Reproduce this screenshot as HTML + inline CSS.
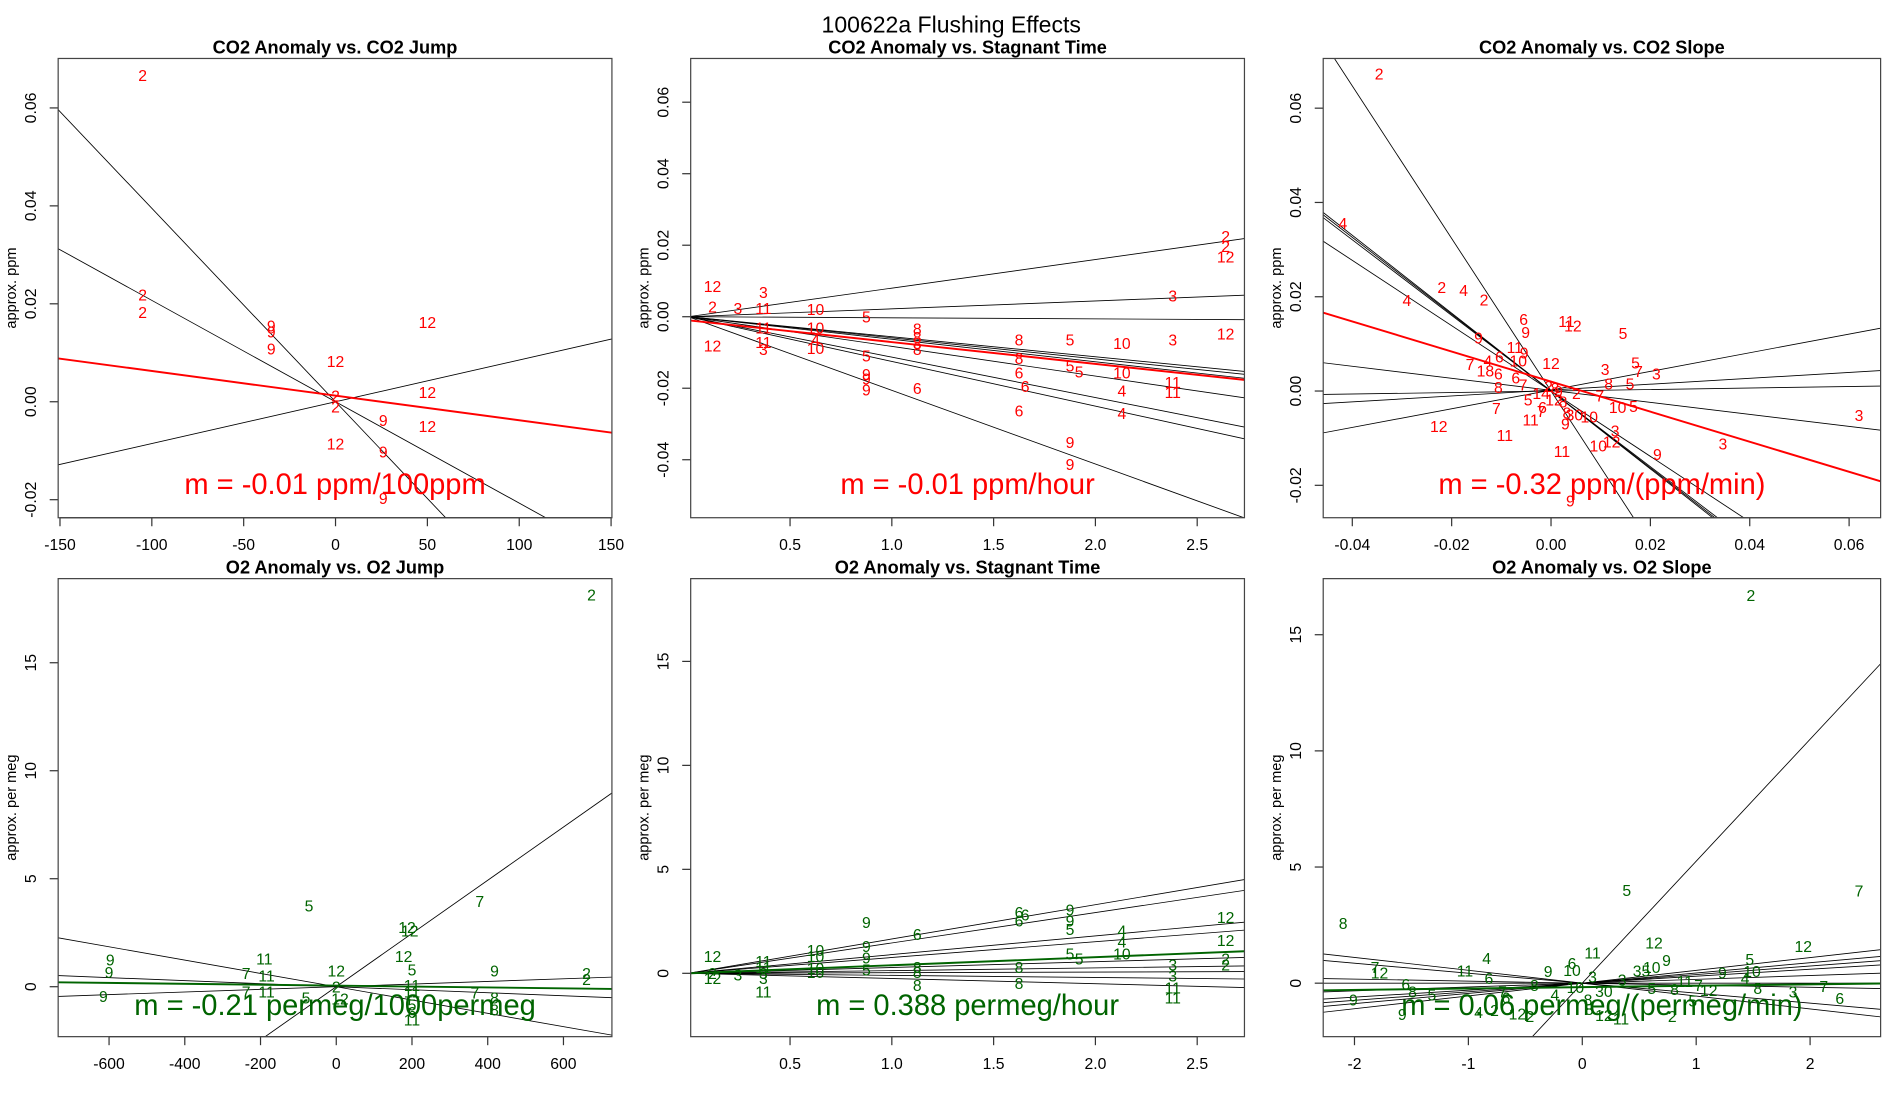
<!DOCTYPE html>
<html><head><meta charset="utf-8"><title>100622a Flushing Effects</title>
<style>
html,body{margin:0;padding:0;background:#fff;overflow:hidden;width:1900px;height:1100px;}
svg{display:block;font-family:"Liberation Sans",Arial,sans-serif;}
</style></head>
<body>
<svg id="chart" width="1900" height="1100" viewBox="0 0 1568 903" preserveAspectRatio="none" xmlns="http://www.w3.org/2000/svg">
<rect x="0" y="0" width="1568" height="903" fill="#fff"/>
<text x="785" y="20" font-size="19" text-anchor="middle" dominant-baseline="central">100622a   Flushing Effects</text>
</svg>
<script>
// ---------- Panel 1: CO2 Anomaly vs CO2 Jump ----------
const p1X = [-105,-105,-105,-35,-35,-35,0,0,0,50,50,50,0,26,26,26];
const p1Y = [0.0664,0.0216,0.018,0.0153,0.014,0.0106,0.008,0.001,-0.0013,0.016,0.0017,-0.0053,-0.0088,-0.004,-0.0105,-0.020];
const p1Lab = ["2","2","2","9","9","9","12","2","2","12","12","12","12","9","9","9"];
const p1Slopes = [-0.000395,-0.000207,0.0000853];
const p1Ints = [0,0,0];
const p1FitSlope = -0.0000503, p1FitInt = 0.00125;
const p1XTicks = [-150,-100,-50,0,50,100,150];
const p1YTicks = [-0.02,0,0.02,0.04,0.06];
const p1YTickLab = ["-0.02","0.00","0.02","0.04","0.06"];

// ---------- Panel 2: CO2 Anomaly vs Stagnant Time ----------
const p2X = [0.119,0.119,0.119,0.244,0.369,0.369,0.369,0.369,0.369,0.625,0.625,0.625,0.625,0.875,0.875,0.875,0.875,0.875,1.125,1.125,1.125,1.125,1.125,1.625,1.625,1.625,1.655,1.625,1.875,1.875,1.92,1.875,1.875,2.13,2.13,2.13,2.13,2.38,2.38,2.38,2.38,2.64,2.64,2.64,2.64];
const p2Y = [0.0082,0.0024,-0.0085,0.002,0.0065,0.002,-0.0034,-0.0075,-0.0095,0.0017,-0.0034,-0.0068,-0.0092,-0.0003,-0.0112,-0.0164,-0.0177,-0.0208,-0.0037,-0.0061,-0.0078,-0.0095,-0.0204,-0.0068,-0.0119,-0.016,-0.0198,-0.0266,-0.0068,-0.014,-0.0157,-0.0354,-0.0416,-0.0078,-0.016,-0.0211,-0.0273,0.0055,-0.0068,-0.0187,-0.0215,0.0221,0.0194,0.0164,-0.0051];
const p2Lab = ["12","2","12","3","3","11","11","11","3","10","10","4","10","5","5","9","9","9","8","8","8","8","6","8","8","6","6","6","5","5","5","9","9","10","10","4","4","3","3","11","11","2","2","12","12"];
const p2Slopes = [0.008,0.0022,-0.0003,-0.0056,-0.0059,-0.0063,-0.0083,-0.0113,-0.0125,-0.0206];
const p2Ints = [0,0,0,0,0,0,0,0,0,0];
const p2FitSlope = -0.0061, p2FitInt = -0.001;
const p2XTicks = [0.5,1.0,1.5,2.0,2.5];
const p2XTickLab = ["0.5","1.0","1.5","2.0","2.5"];
const p2YTicks = [-0.04,-0.02,0,0.02,0.04,0.06];
const p2YTickLab = ["-0.04","-0.02","0.00","0.02","0.04","0.06"];

// ---------- Panel 3: CO2 Anomaly vs CO2 Slope ----------
const p3X = [-0.0346,-0.0419,-0.0290,-0.0220,-0.0176,-0.0135,-0.0055,0.0031,0.0044,-0.0051,0.0145,-0.0146,-0.0073,-0.0054,-0.0066,-0.0104,-0.0127,-0.0163,0,0.0109,0.0170,0.0176,0.0212,-0.0132,-0.0106,-0.0071,-0.0056,-0.0106,0.0116,0.0159,-0.0005,0.0051,0.0098,-0.0046,-0.0020,0.0006,0.0024,0.0134,0.0166,-0.0110,-0.0017,-0.0020,0.0032,0.0047,0.0077,-0.0041,0.0029,-0.0226,-0.0093,0.0129,0.0122,0.0095,0.0022,0.0214,0.0620,0.0346,0.0039,0.0008,0.0015];
const p3Y = [0.0670,0.0353,0.0190,0.0218,0.0211,0.0191,0.0150,0.0145,0.0136,0.0122,0.0120,0.0110,0.0090,0.0079,0.0062,0.0070,0.0062,0.0054,0.0056,0.0044,0.0057,0.0039,0.0034,0.0040,0.0034,0.0026,0.0011,0.0005,0.0013,0.0013,0.0008,-0.0007,-0.0013,-0.0021,-0.0007,-0.0021,-0.0025,-0.0037,-0.0035,-0.0039,-0.0037,-0.0046,-0.0049,-0.0053,-0.0057,-0.0064,-0.0072,-0.0077,-0.0096,-0.0087,-0.0110,-0.0119,-0.0130,-0.0137,-0.0054,-0.0114,-0.0235,0.0003,-0.0003];
const p3Lab = ["2","4","4","2","4","2","6","11","12","9","5","9","11","9","10","6","4","7","12","3","5","7","3","18","6","6","7","8","8","5","2","2","7","5","14","12","8","10","5","7","6","7","8","30","10","11","9","12","11","3","12","10","11","9","3","3","9","8","9"];
const p3Slopes = [-1.618,-0.826,-0.815,-0.802,-0.693,-0.1275,0.016,0.0624,0.198];
const p3Ints = [0,0,0,0,0,0.00015,0,0.0002,0.0002];
const p3FitSlope = -0.319, p3FitInt = 0.0020;
const p3XTicks = [-0.04,-0.02,0,0.02,0.04,0.06];
const p3XTickLab = ["-0.04","-0.02","0.00","0.02","0.04","0.06"];
const p3YTicks = [-0.02,0,0.02,0.04,0.06];
const p3YTickLab = ["-0.02","0.00","0.02","0.04","0.06"];

// ---------- Panel 4: O2 Anomaly vs O2 Jump ----------
const p4X = [674,-72,379,187,194,178,-190,-597,-600,-238,-184,0,200,418,661,661,0,-184,-238,200,200,-80,10,366,-615,418,418,200,200,200];
const p4Y = [18.1,3.7,3.9,2.7,2.54,1.35,1.24,1.18,0.62,0.56,0.45,0.68,0.73,0.68,0.56,0.28,-0.06,-0.28,-0.28,0,-0.28,-0.56,-0.62,-0.34,-0.51,-0.56,-1.13,-0.9,-1.24,-1.58];
const p4Lab = ["2","5","7","12","12","12","11","9","9","7","11","12","5","9","2","2","2","11","7","11","11","5","12","7","9","8","8","5","6","11"];
const p4Slopes = [0.01232,-0.00308,-0.0007,0.00061];
const p4Ints = [0,0,0,0];
const p4FitSlope = -0.00021, p4FitInt = 0.05;
const p4XTicks = [-600,-400,-200,0,200,400,600];
const p4YTicks = [0,5,10,15];

// ---------- Panel 5: O2 Anomaly vs Stagnant Time ----------
const p5X = [0.119,0.119,0.119,0.244,0.369,0.369,0.369,0.369,0.369,0.625,0.625,0.625,0.625,0.875,0.875,0.875,0.875,1.125,1.125,1.125,1.125,1.625,1.655,1.625,1.625,1.625,1.875,1.875,1.875,1.875,1.92,2.13,2.13,2.13,2.38,2.38,2.38,2.38,2.64,2.64,2.64,2.64];
const p5Y = [0.76,-0.06,-0.29,-0.12,0.53,0.23,-0.06,-0.29,-0.94,1.05,0.76,0.18,0,2.4,1.23,0.7,0.12,1.82,0.23,0,-0.64,2.87,2.75,2.46,0.23,-0.53,2.99,2.46,2.05,0.88,0.64,1.99,1.46,0.88,0.35,-0.18,-0.76,-1.23,2.64,1.52,0.64,0.35];
const p5Lab = ["12","2","12","3","11","11","3","3","11","10","10","10","10","9","9","9","5","6","8","8","8","6","6","6","8","8","9","9","5","5","5","4","4","10","3","3","11","11","12","12","2","2"];
const p5Slopes = [1.65,1.46,0.9,0.76,0.28,0.13,0.03,-0.1,-0.25];
const p5Ints = [0,0,0,0,0,0,0,0,0];
const p5FitSlope = 0.388, p5FitInt = 0;
const p5YTicks = [0,5,10,15];

// ---------- Panel 6: O2 Anomaly vs O2 Slope ----------
const p6X = [1.48,0.39,2.43,-2.10,0.63,1.94,0.09,-0.84,0.74,-1.82,-1.78,1.47,-0.09,-1.03,-0.30,-0.09,0.61,0.52,1.23,1.49,-0.82,1.43,0.09,0.35,-1.55,-0.42,-0.06,0.90,1.02,1.11,0.61,0.81,1.54,2.12,-1.49,-1.32,1.85,-2.01,0.19,2.26,-0.24,-0.67,-0.70,0.05,0.97,-1.58,-0.91,-0.77,-0.57,0.19,0.34,-0.46,0.79,0.06];
const p6Y = [16.65,3.95,3.92,2.52,1.69,1.53,1.26,1.01,0.94,0.64,0.40,0.98,0.81,0.48,0.45,0.51,0.64,0.48,0.40,0.45,0.15,0.15,0.23,0.10,-0.10,-0.15,-0.22,0.02,-0.15,-0.35,-0.27,-0.32,-0.27,-0.18,-0.43,-0.55,-0.43,-0.76,-0.40,-0.71,-0.56,-0.68,-0.43,-0.76,-0.81,-1.39,-1.31,-1.21,-1.37,-1.44,-1.59,-1.47,-1.47,-1.18];
const p6Lab = ["2","5","7","8","12","12","11","4","9","7","12","5","6","11","9","10","10","35","9","10","6","4","3","3","6","8","10","11","7","12","5","8","8","7","8","5","3","9","30","6","4","6","7","8","5","9","4","2","12","12","11","2","2","8"];
const p6Slopes = [5.25,-0.554,-0.43,-0.088,0,0.30,0.37,0.44,0.55,0.165];
const p6Ints = [0,0,0,0,0,0,0,0,0,0];
const p6FitSlope = 0.06, p6FitInt = -0.17;
const p6XTicks = [-2,-1,0,1,2];
const p6YTicks = [0,5,10,15];

const NS = "http://www.w3.org/2000/svg";
const svg = document.getElementById("chart");

function mk(tag, attrs, parent){
  const e = document.createElementNS(NS, tag);
  for (const k in attrs) e.setAttribute(k, attrs[k]);
  (parent||svg).appendChild(e);
  return e;
}

function drawPanel(cfg){
  const g = mk("g", {});
  
  
  const L = cfg.box[0], R = cfg.box[1], T = cfg.box[2], B = cfg.box[3];
  const sx = v => cfg.x0 + v*cfg.xk;
  const sy = v => cfg.y0 - v*cfg.yk;
  const clipId = cfg.name + "-clip";
  const cp = mk("clipPath", {id: clipId}, g);
  mk("rect", {x:L, y:T, width:R-L, height:B-T}, cp);

  const title = mk("text", {x:(L+R)/2, y:T-9, "font-size":15, "font-weight":"bold", "text-anchor":"middle", "dominant-baseline":"central"}, g);
  title.textContent = cfg.title;
  
  

  const yl = mk("text", {x:L-38, y:(T+B)/2, "font-size":12, "text-anchor":"middle", "dominant-baseline":"central", transform:"rotate(-90 "+(L-38)+" "+((T+B)/2)+")"}, g);
  yl.textContent = cfg.ylabel;
  
  

  cfg.xTicks.forEach((v,i) => {
    const px = sx(v);
    const t = mk("line", {x1:px, x2:px, y1:B, y2:B+7, stroke:"#333", "stroke-width":1}, g);
    
    
    const tl = mk("text", {x:px, y:B+23, "font-size":13, "text-anchor":"middle", "dominant-baseline":"central"}, g);
    tl.textContent = cfg.xTickLab ? cfg.xTickLab[i] : String(v);
    
    
  });
  mk("line", {x1:sx(cfg.xTicks[0]), x2:sx(cfg.xTicks[cfg.xTicks.length-1]), y1:B, y2:B, stroke:"#333", "stroke-width":1}, g);
  cfg.yTicks.forEach((v,i) => {
    const py = sy(v);
    const t = mk("line", {x1:L-7, x2:L, y1:py, y2:py, stroke:"#333", "stroke-width":1}, g);
    
    
    const tx = L-22;
    const tl = mk("text", {x:tx, y:py, "font-size":13, "text-anchor":"middle", "dominant-baseline":"central", transform:"rotate(-90 "+tx+" "+py+")"}, g);
    tl.textContent = cfg.yTickLab ? cfg.yTickLab[i] : String(v);
    
    
  });

  const plot = mk("g", {"clip-path":"url(#"+clipId+")"}, g);
  
  
  const xa = (L - cfg.x0)/cfg.xk, xb = (R - cfg.x0)/cfg.xk;
  cfg.slopes.forEach((m,i) => {
    const c = cfg.ints[i];
    const ln = mk("line", {x1:sx(xa), y1:sy(c+m*xa), x2:sx(xb), y2:sy(c+m*xb), stroke:"#000", "stroke-width":0.7}, plot);
    
    
  });
  cfg.px.forEach((v,i) => {
    const t = mk("text", {x:sx(v), y:sy(cfg.py[i]), "font-size":13, fill:cfg.color, "text-anchor":"middle", "dominant-baseline":"central"}, plot);
    t.textContent = cfg.labs[i];
    
    
  });
  const fl = mk("line", {x1:sx(xa), y1:sy(cfg.fitInt+cfg.fitSlope*xa), x2:sx(xb), y2:sy(cfg.fitInt+cfg.fitSlope*xb), stroke:cfg.color, "stroke-width":1.6}, plot);
  
  
  const mt = mk("text", {x:(L+R)/2, y:cfg.mY, "font-size":24, fill:cfg.color, "text-anchor":"middle", "dominant-baseline":"central"}, plot);
  mt.textContent = cfg.mText;
  
  

  const bx = mk("rect", {x:L, y:T, width:R-L, height:B-T, fill:"none", stroke:"#444", "stroke-width":1}, g);
  
  
}

const RED = "#ff0000", GREEN = "#006400";
drawPanel({name:"co2-vs-jump-panel", title:"CO2 Anomaly vs. CO2 Jump", ylabel:"approx. ppm", box:[48,505,48,425],
  x0:276.9, xk:1.516, y0:329.8, yk:4020, xTicks:p1XTicks, yTicks:p1YTicks, yTickLab:p1YTickLab,
  px:p1X, py:p1Y, labs:p1Lab, slopes:p1Slopes, ints:p1Ints, fitSlope:p1FitSlope, fitInt:p1FitInt,
  color:RED, mText:"m = -0.01 ppm/100ppm", mY:398});
drawPanel({name:"co2-vs-stagnant-panel", title:"CO2 Anomaly vs. Stagnant Time", ylabel:"approx. ppm", box:[570,1027,48,425],
  x0:568, xk:168, y0:260, yk:2935, xTicks:p2XTicks, xTickLab:p2XTickLab, yTicks:p2YTicks, yTickLab:p2YTickLab,
  px:p2X, py:p2Y, labs:p2Lab, slopes:p2Slopes, ints:p2Ints, fitSlope:p2FitSlope, fitInt:p2FitInt,
  color:RED, mText:"m = -0.01 ppm/hour", mY:398});
drawPanel({name:"co2-vs-slope-panel", title:"CO2 Anomaly vs. CO2 Slope", ylabel:"approx. ppm", box:[1092,1552,48,425],
  x0:1280, xk:4100, y0:321, yk:3870, xTicks:p3XTicks, xTickLab:p3XTickLab, yTicks:p3YTicks, yTickLab:p3YTickLab,
  px:p3X, py:p3Y, labs:p3Lab, slopes:p3Slopes, ints:p3Ints, fitSlope:p3FitSlope, fitInt:p3FitInt,
  color:RED, mText:"m = -0.32 ppm/(ppm/min)", mY:398});
drawPanel({name:"o2-vs-jump-panel", title:"O2 Anomaly vs. O2 Jump", ylabel:"approx. per meg", box:[48,505,475,851],
  x0:277.5, xk:0.3125, y0:810, yk:17.73, xTicks:p4XTicks, yTicks:p4YTicks,
  px:p4X, py:p4Y, labs:p4Lab, slopes:p4Slopes, ints:p4Ints, fitSlope:p4FitSlope, fitInt:p4FitInt,
  color:GREEN, mText:"m = -0.21 permeg/1000permeg", mY:826});
drawPanel({name:"o2-vs-stagnant-panel", title:"O2 Anomaly vs. Stagnant Time", ylabel:"approx. per meg", box:[570,1027,475,851],
  x0:568, xk:168, y0:799, yk:17.07, xTicks:p2XTicks, xTickLab:p2XTickLab, yTicks:p5YTicks,
  px:p5X, py:p5Y, labs:p5Lab, slopes:p5Slopes, ints:p5Ints, fitSlope:p5FitSlope, fitInt:p5FitInt,
  color:GREEN, mText:"m = 0.388 permeg/hour", mY:826});
drawPanel({name:"o2-vs-slope-panel", title:"O2 Anomaly vs. O2 Slope", ylabel:"approx. per meg", box:[1092,1552,475,851],
  x0:1305.8, xk:94, y0:807.1, yk:19.07, xTicks:p6XTicks, yTicks:p6YTicks,
  px:p6X, py:p6Y, labs:p6Lab, slopes:p6Slopes, ints:p6Ints, fitSlope:p6FitSlope, fitInt:p6FitInt,
  color:GREEN, mText:"m = 0.06 permeg/(permeg/min)", mY:826});
</script>
</body></html>
